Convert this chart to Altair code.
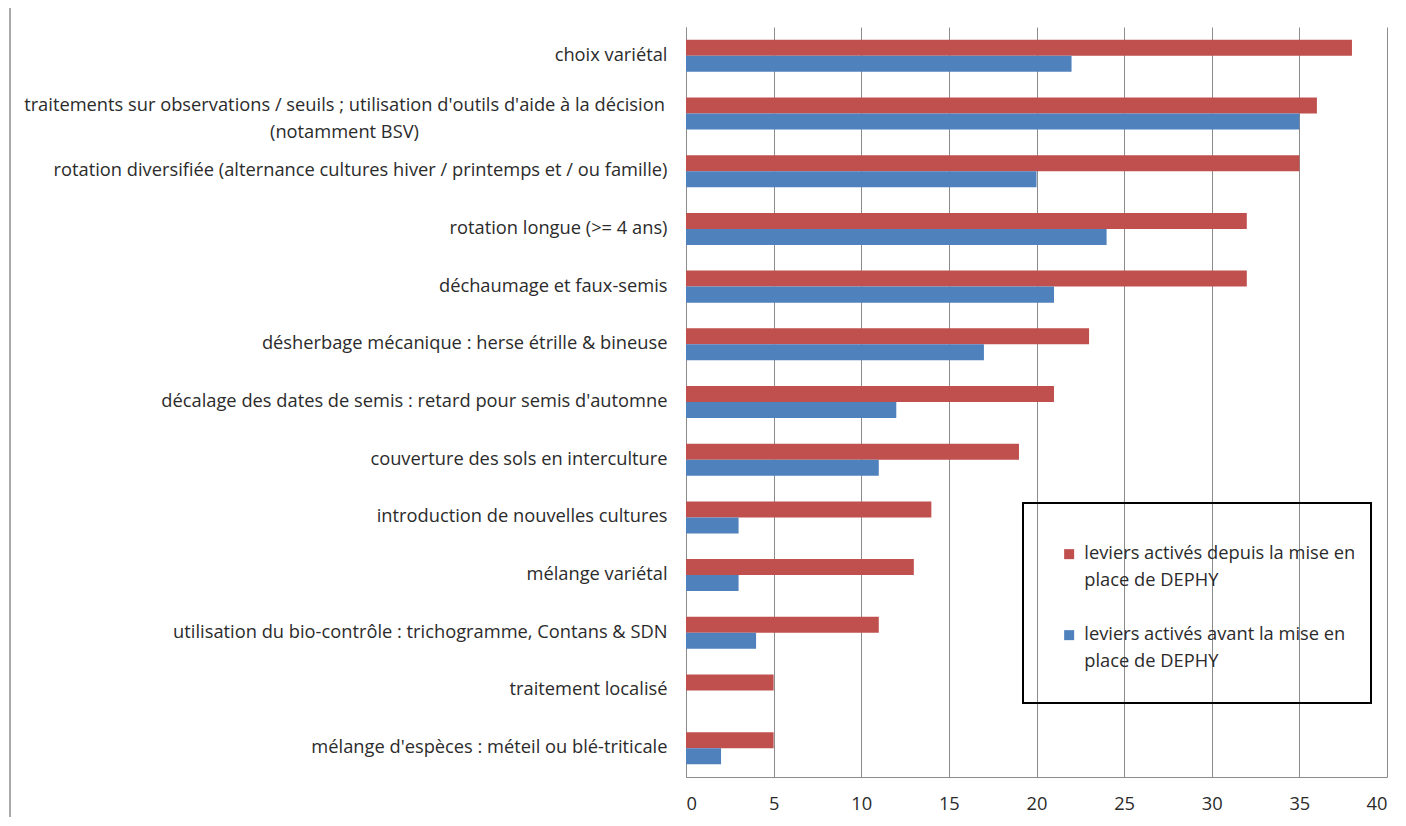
import altair as alt
import pandas as pd

categories = [
    "choix variétal",
    "traitements sur observations / seuils ; utilisation d'outils d'aide à la décision|(notamment BSV)",
    "rotation diversifiée (alternance cultures hiver / printemps et / ou famille)",
    "rotation longue (>= 4 ans)",
    "déchaumage et faux-semis",
    "désherbage mécanique : herse étrille & bineuse",
    "décalage des dates de semis : retard pour semis d'automne",
    "couverture des sols en interculture",
    "introduction de nouvelles cultures",
    "mélange variétal",
    "utilisation du bio-contrôle : trichogramme, Contans & SDN",
    "traitement localisé",
    "mélange d'espèces : méteil ou blé-triticale",
]
series = [
    "leviers activés depuis la mise en",
    "leviers activés avant la mise en",
]
# legend rows: each series label continues on a second line ("place de DEPHY")
legend_rows = [
    "  ",
    series[0],
    "place de DEPHY ",
    " ",
    series[1],
    "place de DEPHY",
]
depuis = [38, 36, 35, 32, 32, 23, 21, 19, 14, 13, 11, 5, 5]
avant = [22, 35, 20, 24, 21, 17, 12, 11, 3, 3, 4, 0, 2]
colors = ["#C0504D", "#4F81BD"]
CLEAR = "rgba(0,0,0,0)"
legend_colors = [CLEAR, colors[0], CLEAR, CLEAR, colors[1], CLEAR]
x_ticks = [0, 5, 10, 15, 20, 25, 30, 35, 40]

rows = []
for c, a, b in zip(categories, depuis, avant):
    rows.append({"levier": c, "serie": series[0], "valeur": a})
    rows.append({"levier": c, "serie": series[1], "valeur": b})
df = pd.DataFrame(rows)

FONT = "Open Sans"
FS = 18.3
TXT = "#2b2b2b"
GRID = "#8C8C8C"

multi = "indexof(datum.value, '|') >= 0"

bars = alt.Chart(df).mark_bar().encode(
    x=alt.X(
        "valeur:Q",
        scale=alt.Scale(domain=[0, 40], nice=False),
        axis=alt.Axis(
            values=x_ticks, title=None, ticks=False, grid=True,
            gridColor=GRID, gridWidth=1, domainColor=GRID,
            labelFont=FONT, labelFontSize=FS, labelColor=TXT, labelPadding=18,
        ),
    ),
    y=alt.Y(
        "levier:N",
        sort=categories,
        scale=alt.Scale(paddingInner=0.445, paddingOuter=0.2225),
        axis=alt.Axis(
            title=None, ticks=False, grid=False, domainColor=GRID,
            labelFont=FONT, labelFontSize=FS, labelColor=TXT,
            labelLimit=700, labelLineHeight=27,
            labelExpr="split(datum.label, '|')",
            labelAlign={"condition": {"test": multi, "value": "center"}, "value": "right"},
            labelPadding={"condition": {"test": multi, "value": 342}, "value": 19},
            labelOffset={"condition": {"test": multi, "value": -8}, "value": 0},
        ),
    ),
    yOffset=alt.YOffset("serie:N", sort=series,
                        scale=alt.Scale(paddingInner=0, paddingOuter=0)),
    color=alt.Color(
        "serie:N",
        scale=alt.Scale(domain=legend_rows, range=legend_colors),
        legend=alt.Legend(
            title=" ", titleFontSize=9, titlePadding=9, titleOrient="bottom",
            orient="none", legendX=337, legendY=476,
            values=legend_rows,
            labelFont=FONT, labelFontSize=FS, labelColor=TXT, labelLimit=400,
            symbolType="square", symbolSize=100, symbolStrokeWidth=0,
            symbolOffset=22,
            strokeColor="black", padding=15, rowPadding=8, labelOffset=6,
        ),
    ),
)

frame = alt.Chart(pd.DataFrame({"k": [0]})).mark_rule(color="#8C8C8C", strokeWidth=1.5).encode(
    x=alt.value(-676), y=alt.value(-19), y2=alt.value(790)
)

chart = alt.layer(bars, frame).properties(
    width=701, height=750,
    autosize=alt.AutoSizeParams(type="none"),
    padding={"left": 678, "top": 19, "right": 11, "bottom": 40},
).configure_view(stroke=None).configure_legend(strokeWidth=2)

chart.save("out.html", embed_options={"renderer": "svg", "actions": False})
